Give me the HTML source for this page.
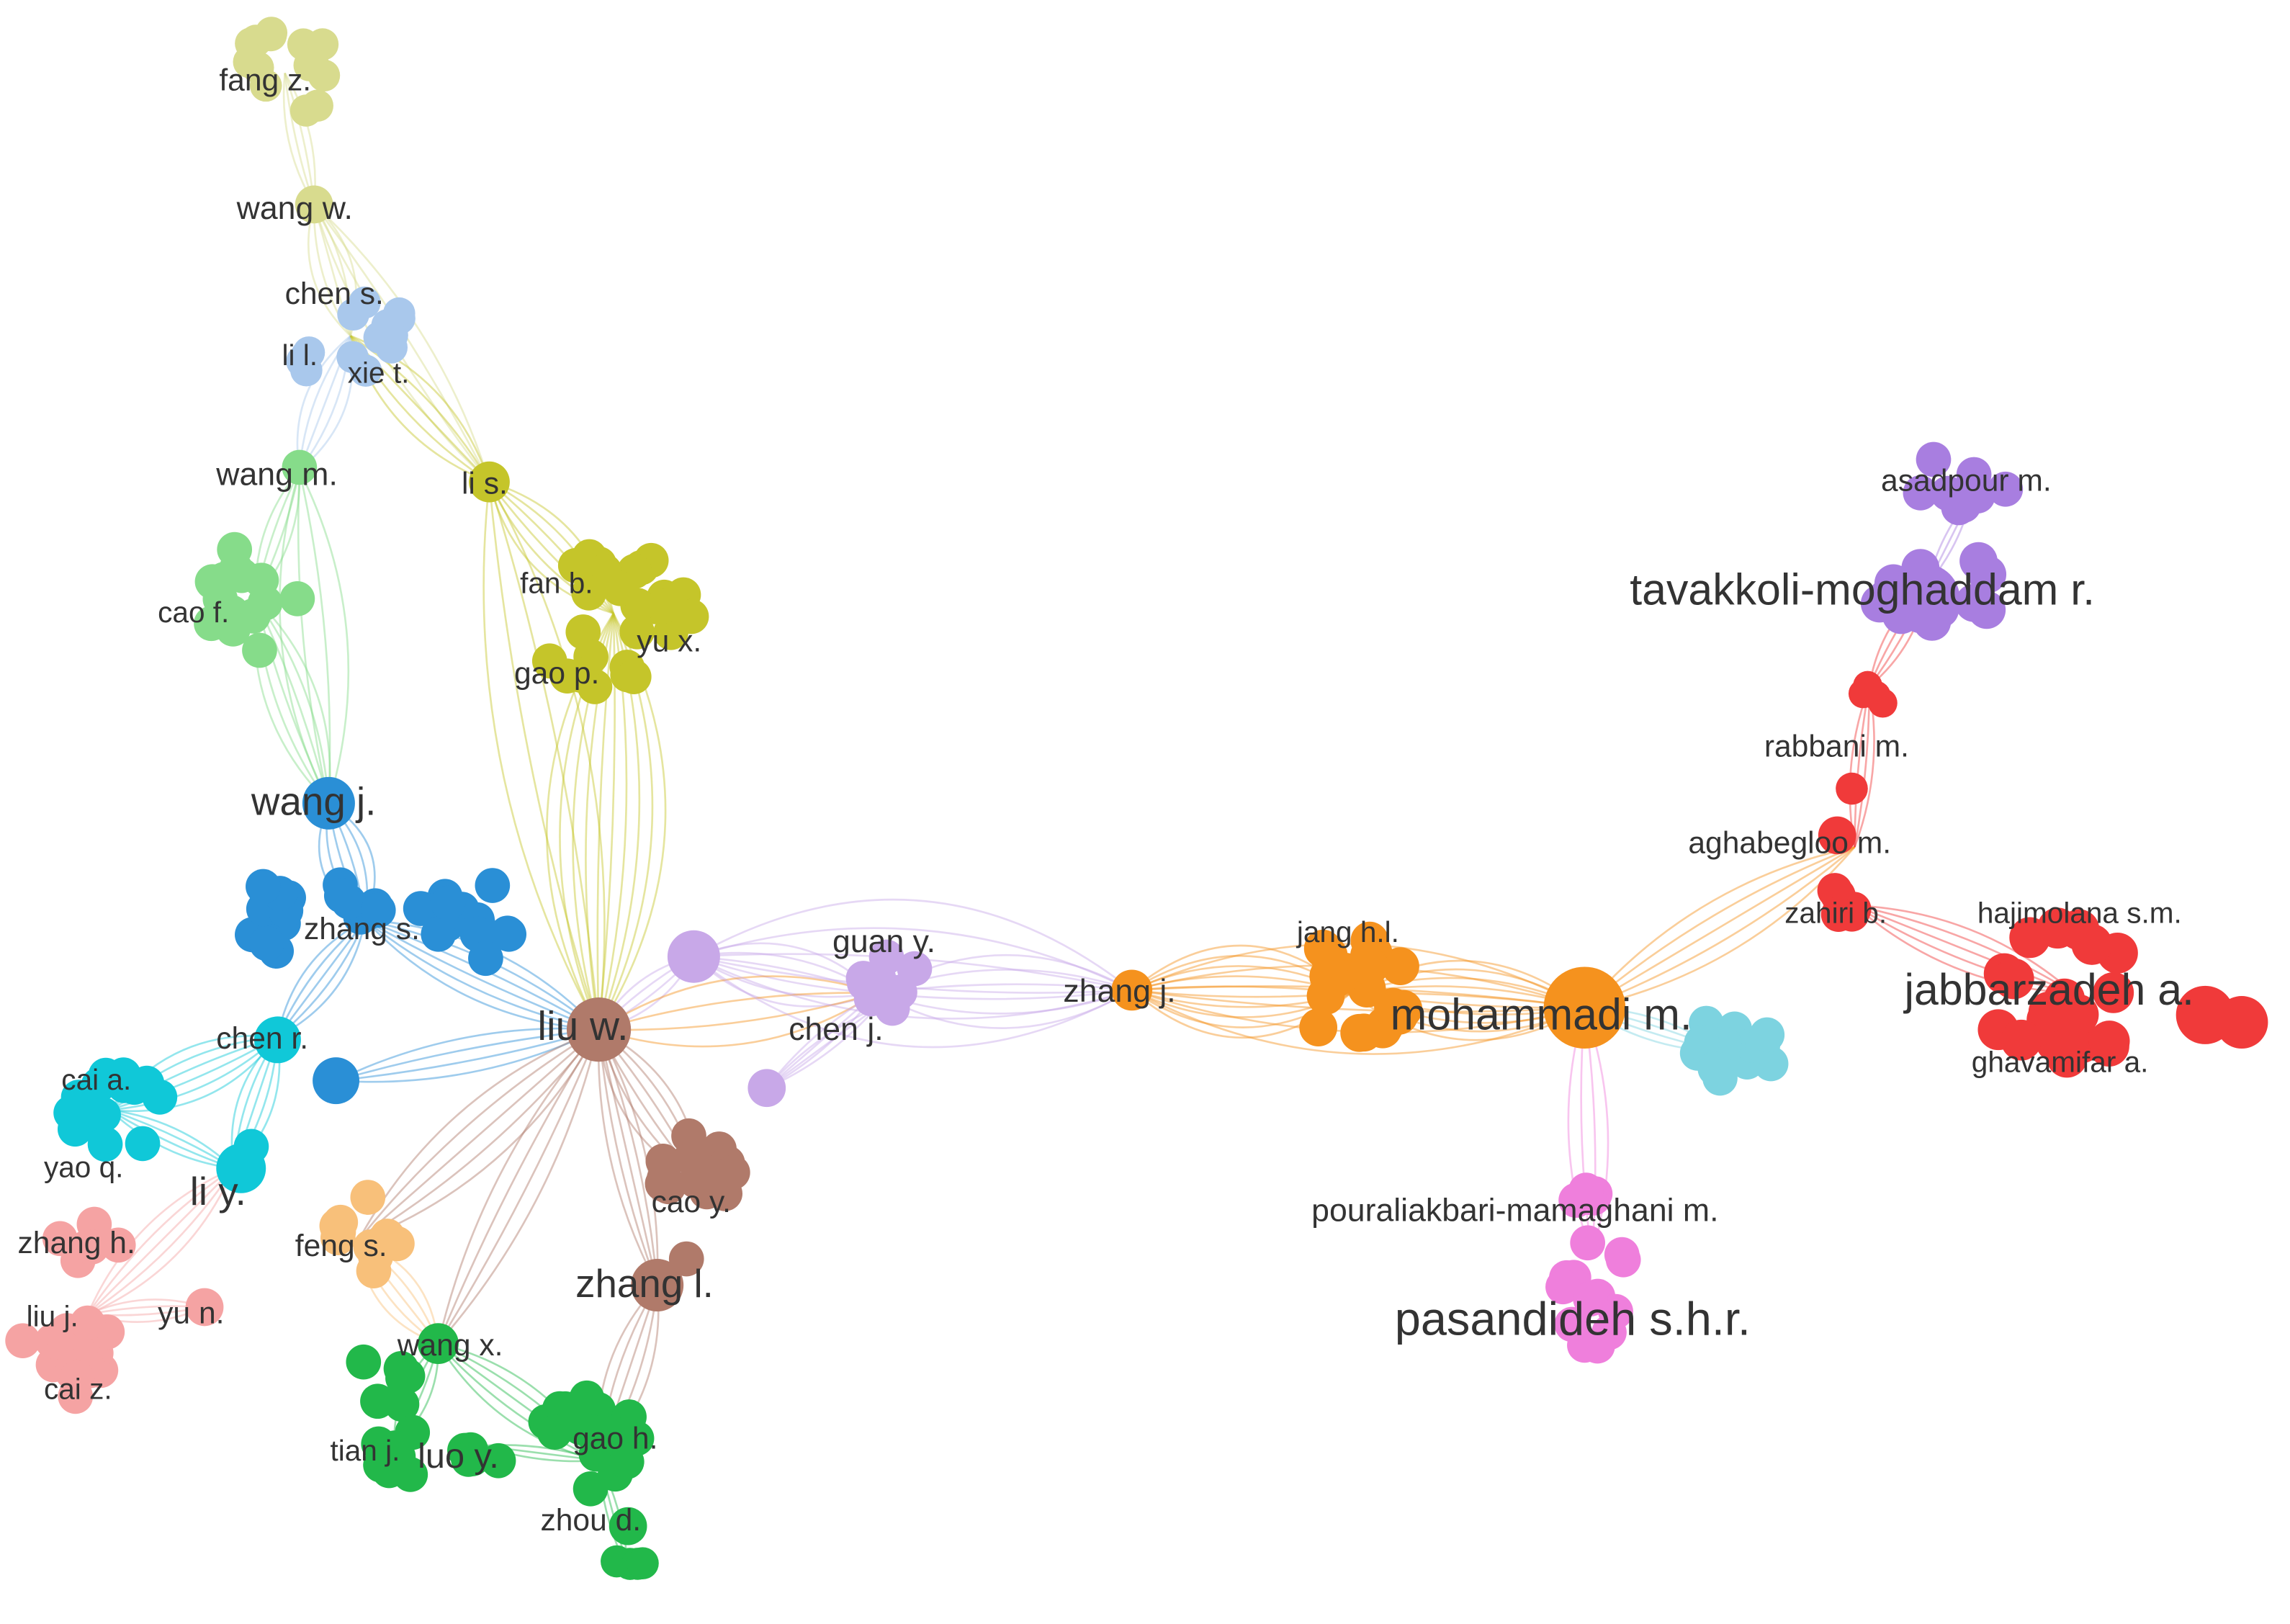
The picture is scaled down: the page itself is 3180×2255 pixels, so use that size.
<!DOCTYPE html>
<html><head><meta charset="utf-8">
<style>
html,body{margin:0;padding:0;background:#fff;}
svg{display:block;}
text{font-family:"Liberation Sans",sans-serif;fill:#333;}
</style></head>
<body>
<svg id="s" width="3180" height="2255" viewBox="0 0 1568 1112" xmlns="http://www.w3.org/2000/svg">
<g id="edges" fill="none" stroke-width="1.3" stroke-opacity="0.45"></g>
<g id="nodes"></g>
<g id="labels">
<text x="150" y="62" font-size="21">fang z.</text>
<text x="162" y="150" font-size="22">wang w.</text>
<text x="195" y="208" font-size="21">chen s.</text>
<text x="193" y="250" font-size="20">li l.</text>
<text x="238" y="262" font-size="20">xie t.</text>
<text x="148" y="332" font-size="22">wang m.</text>
<text x="316" y="338" font-size="21">li s.</text>
<text x="108" y="426" font-size="20">cao f.</text>
<text x="356" y="406" font-size="20">fan b.</text>
<text x="436" y="446" font-size="21">yu x.</text>
<text x="352" y="468" font-size="21">gao p.</text>
<text x="172" y="558" font-size="27">wang j.</text>
<text x="208" y="643" font-size="21">zhang s.</text>
<text x="148" y="718" font-size="21">chen r.</text>
<text x="368" y="712" font-size="28">liu w.</text>
<text x="42" y="746" font-size="20">cai a.</text>
<text x="30" y="806" font-size="20">yao q.</text>
<text x="130" y="825" font-size="27">li y.</text>
<text x="12" y="858" font-size="21">zhang h.</text>
<text x="202" y="860" font-size="21">feng s.</text>
<text x="446" y="830" font-size="21">cao y.</text>
<text x="394" y="888" font-size="27">zhang l.</text>
<text x="18" y="908" font-size="20">liu j.</text>
<text x="108" y="906" font-size="21">yu n.</text>
<text x="272" y="928" font-size="21">wang x.</text>
<text x="30" y="958" font-size="20">cai z.</text>
<text x="226" y="1000" font-size="20">tian j.</text>
<text x="286" y="1005" font-size="24">luo y.</text>
<text x="392" y="992" font-size="21">gao h.</text>
<text x="370" y="1048" font-size="21">zhou d.</text>
<text x="570" y="652" font-size="22">guan y.</text>
<text x="540" y="712" font-size="22">chen j.</text>
<text x="728" y="686" font-size="22">zhang j.</text>
<text x="888" y="645" font-size="20">jang h.l.</text>
<text x="952" y="705" font-size="30">mohammadi m.</text>
<text x="1288" y="336" font-size="21">asadpour m.</text>
<text x="1116" y="414" font-size="30">tavakkoli-moghaddam r.</text>
<text x="1208" y="518" font-size="21">rabbani m.</text>
<text x="1156" y="584" font-size="21">aghabegloo m.</text>
<text x="1222" y="632" font-size="20">zahiri b.</text>
<text x="1354" y="632" font-size="20">hajimolana s.m.</text>
<text x="1304" y="688" font-size="30">jabbarzadeh a.</text>
<text x="1350" y="734" font-size="20">ghavamifar a.</text>
<text x="898" y="836" font-size="22">pouraliakbari-mamaghani m.</text>
<text x="955" y="914" font-size="32">pasandideh s.h.r.</text>
</g>
</svg>
<script>
var NS="http://www.w3.org/2000/svg";
var E=document.getElementById("edges"),N=document.getElementById("nodes");
function c(x,y,r,col){var e=document.createElementNS(NS,"circle");e.setAttribute("cx",x);e.setAttribute("cy",y);e.setAttribute("r",r);e.setAttribute("fill",col);N.appendChild(e);}
function cl(x,y,rx,ry,r,n,col){var seed=x*7+y*13;for(var i=0;i<n;i++){seed=(seed*9301+49297)%233280;var a=seed/233280*6.283;seed=(seed*9301+49297)%233280;var d=Math.sqrt(seed/233280);c(x+Math.cos(a)*rx*d,y+Math.sin(a)*ry*d,r,col);}}
function ed(x1,y1,x2,y2,col,n,b){for(var i=0;i<n;i++){var k=(i-(n-1)/2)*(b||12);var mx=(x1+x2)/2,my=(y1+y2)/2;var dx=x2-x1,dy=y2-y1,L=Math.hypot(dx,dy)||1;var p=document.createElementNS(NS,"path");p.setAttribute("d","M"+x1+","+y1+" Q"+(mx-dy/L*k)+","+(my+dx/L*k)+" "+x2+","+y2);p.setAttribute("stroke",col);E.appendChild(p);}}
var Y="#c5c52a",PY="#d8db8e",LB="#a9c8ec",LG="#86dc8a",B="#2a8fd6",CY="#10c8d8",PK="#f5a3a3",OL="#f8c07a",BR="#b07a6a",G="#22b84a",LV="#c8a8e8",O="#f5921e",TL="#7dd3e0",MG="#ef7fdc",R="#f03a3a",PU="#a87ee0";
// edges
ed(195,50,215,140,PY,4,10);ed(215,140,240,230,PY,5,14);ed(215,140,335,330,PY,4,20);ed(240,230,205,322,LB,5,14);ed(240,230,335,330,Y,5,16);
ed(205,322,175,410,LG,4,12);ed(205,322,225,550,LG,4,30);ed(175,410,225,550,LG,6,14);ed(335,330,420,420,Y,6,14);
ed(420,420,410,705,Y,10,18);ed(335,330,410,705,Y,4,40);ed(225,550,250,630,B,6,14);ed(250,630,410,705,B,6,14);
ed(250,630,190,710,B,5,12);ed(190,710,75,760,CY,6,14);ed(190,710,160,800,CY,5,12);ed(75,760,160,800,CY,4,10);
ed(410,705,230,740,B,4,16);ed(410,705,245,850,BR,5,20);ed(410,705,480,810,BR,6,14);ed(410,705,450,880,BR,5,12);
ed(410,705,300,920,BR,4,20);ed(245,850,300,920,OL,5,14);ed(160,800,60,900,PK,5,14);ed(60,900,140,895,PK,4,10);
ed(300,920,270,990,G,4,12);ed(300,920,410,1000,G,5,14);ed(450,880,410,1000,BR,5,14);ed(410,1000,430,1075,G,3,8);ed(330,990,410,1000,G,3,8);
ed(410,705,475,655,LV,4,12);ed(475,655,600,680,LV,6,16);ed(600,680,775,678,LV,6,20);ed(410,705,600,680,O,4,30);ed(525,745,600,690,LV,3,10);
ed(475,655,775,678,LV,6,40);ed(775,678,925,680,O,10,14);ed(925,680,1085,690,O,10,12);ed(775,678,1085,690,O,6,30);
ed(1085,690,1180,720,TL,4,10);ed(1085,690,1090,860,MG,4,18);ed(1085,690,1270,580,O,5,18);ed(1270,580,1280,470,R,4,10);
ed(1280,470,1320,400,R,4,10);ed(1270,620,1420,680,R,5,14);ed(1320,400,1350,340,PU,3,8);ed(600,680,525,745,LV,3,10);
// nodes
cl(195,48,32,34,11,14,PY);c(215,140,13,PY);cl(245,235,45,30,11,14,LB);c(335,330,14,Y);c(205,320,12,LG);
cl(172,408,34,38,12,14,LG);cl(420,425,55,48,12,26,Y);c(225,550,18,B);cl(210,628,50,28,12,16,B);cl(320,635,35,34,12,14,B);
c(190,712,16,CY);c(230,740,16,B);cl(78,765,38,30,12,16,CY);c(165,800,17,CY);c(172,785,12,CY);
cl(60,850,25,15,12,6,PK);cl(45,925,32,35,12,14,PK);c(140,895,13,PK);cl(245,848,28,30,12,10,OL);
c(410,705,22,BR);cl(480,812,36,36,12,16,BR);c(450,880,18,BR);c(470,862,12,BR);
cl(262,945,22,22,12,6,G);c(300,920,14,G);cl(272,995,20,20,12,8,G);cl(330,992,16,14,12,5,G);cl(405,985,35,35,12,16,G);
c(430,1045,13,G);cl(430,1072,12,8,11,4,G);
c(475,655,18,LV);cl(605,675,25,28,12,9,LV);c(525,745,13,LV);c(775,678,14,O);
cl(925,680,40,38,13,22,O);c(1085,690,28,O);cl(1180,718,40,22,12,12,TL);cl(1090,860,22,75,12,18,MG);
cl(1345,330,35,22,12,8,PU);cl(1330,405,45,28,13,14,PU);c(1318,410,24,PU);
cl(1278,478,12,12,10,4,R);c(1268,540,11,R);c(1258,572,13,R);cl(1265,612,15,16,12,5,R);
cl(1410,680,55,48,14,20,R);c(1510,695,20,R);c(1535,700,18,R);
</script>
</body></html>
